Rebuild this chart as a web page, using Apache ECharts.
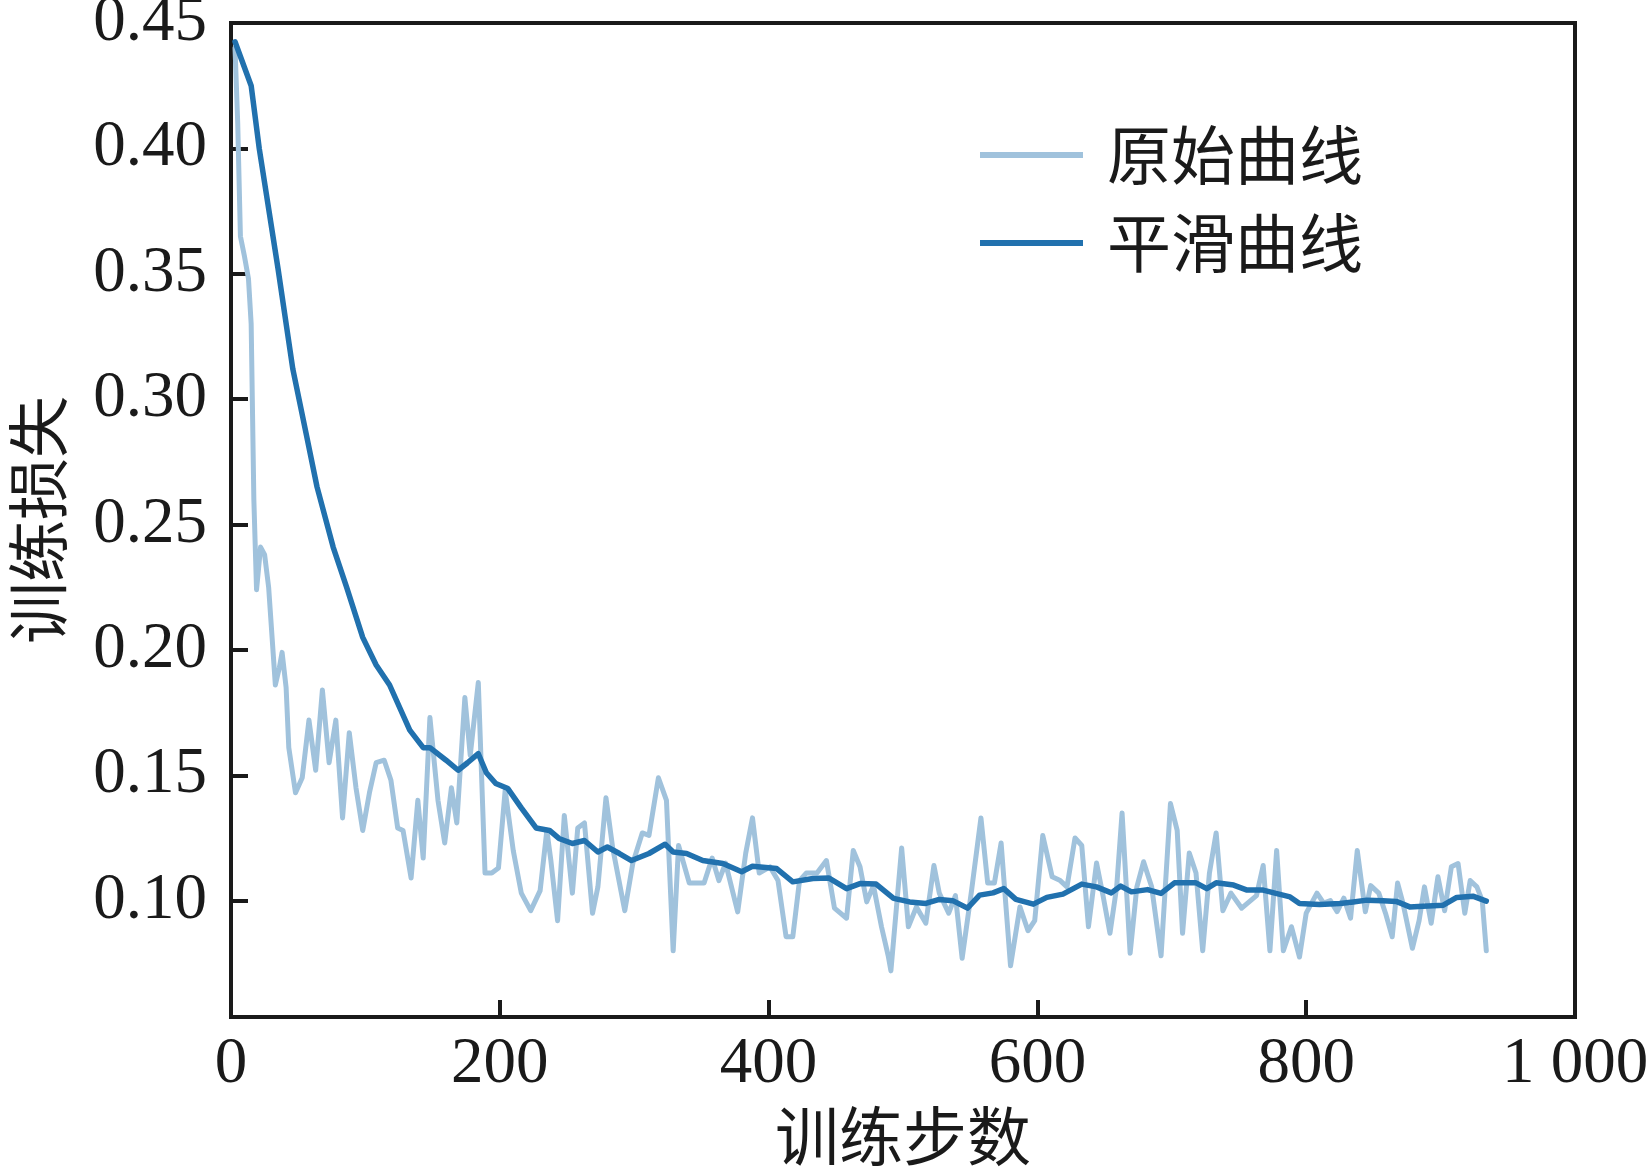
<!DOCTYPE html>
<html>
<head>
<meta charset="utf-8">
<script src="https://cdn.jsdelivr.net/npm/echarts@6/dist/echarts.min.js"></script>
<style>html,body{margin:0;padding:0;background:#fff;}#c{width:1649px;height:1170px;}</style>
</head>
<body>
<div id="c"></div>
<script>
var rawSteps = [3,5,7,10,13,15,17,19,22,25,28,33,36,38,41,43,48,53,58,63,68,73,78,83,88,93,98,103,108,114,119,124,128,134,139,143,148,154,159,164,168,174,178,184,189,194,199,204,210,216,223,230,235,238,243,248,254,258,263,269,273,279,284,293,299,306,311,318,324,329,333,341,352,358,363,368,377,383,388,393,401,407,413,418,423,428,436,443,449,458,463,468,473,478,484,489,491,499,504,510,517,523,527,534,539,544,551,558,563,568,573,580,587,593,598,604,611,617,622,628,633,638,644,649,654,659,663,669,674,679,685,692,699,704,708,713,718,723,728,733,738,744,752,763,768,773,778,783,789,795,800,808,813,818,823,828,833,838,844,848,854,859,864,868,872,879,884,888,893,898,903,908,913,918,922,927,931,934];
var rawLoss = [0.440,0.410,0.365,0.357,0.348,0.330,0.260,0.224,0.241,0.238,0.225,0.186,0.193,0.199,0.185,0.161,0.143,0.149,0.172,0.152,0.184,0.155,0.172,0.133,0.167,0.145,0.128,0.143,0.155,0.156,0.148,0.129,0.128,0.109,0.140,0.117,0.173,0.140,0.123,0.145,0.131,0.181,0.158,0.187,0.111,0.111,0.113,0.144,0.120,0.103,0.096,0.104,0.128,0.116,0.092,0.134,0.103,0.129,0.131,0.095,0.1055,0.141,0.121,0.096,0.115,0.127,0.126,0.149,0.140,0.080,0.122,0.107,0.107,0.117,0.108,0.115,0.0955,0.119,0.133,0.111,0.1135,0.108,0.0856,0.0856,0.108,0.111,0.111,0.116,0.097,0.093,0.120,0.1135,0.0995,0.106,0.0896,0.078,0.072,0.121,0.0896,0.0975,0.091,0.114,0.103,0.095,0.102,0.077,0.104,0.133,0.107,0.107,0.123,0.074,0.0975,0.088,0.092,0.126,0.1095,0.108,0.1055,0.125,0.122,0.0896,0.115,0.1015,0.087,0.1055,0.135,0.079,0.1055,0.1155,0.1055,0.078,0.1387,0.128,0.087,0.119,0.111,0.080,0.111,0.127,0.096,0.103,0.097,0.102,0.114,0.080,0.120,0.080,0.0896,0.0775,0.095,0.103,0.099,0.100,0.0956,0.101,0.093,0.120,0.0956,0.106,0.103,0.095,0.0856,0.107,0.099,0.081,0.092,0.1055,0.091,0.1095,0.096,0.1135,0.1148,0.095,0.108,0.1055,0.100,0.080];
var smoothSteps = [3,15,21,35,46,56,64,76,86,98,108,118,133,143,148,160,169,176,184,190,197,206,216,227,237,244,254,263,273,280,289,298,311,323,329,339,351,366,380,388,406,418,433,445,458,468,480,493,505,517,527,537,548,557,567,575,584,597,607,619,633,644,655,662,670,682,692,702,718,726,733,746,756,768,776,788,795,810,825,835,845,857,867,877,887,902,912,924,934];
var smoothLoss = [0.4425,0.425,0.400,0.352,0.312,0.286,0.265,0.241,0.225,0.205,0.194,0.186,0.168,0.161,0.161,0.156,0.152,0.155,0.1586,0.151,0.1467,0.1447,0.137,0.129,0.128,0.1248,0.1228,0.124,0.1194,0.1214,0.1188,0.116,0.1188,0.1225,0.1194,0.1188,0.116,0.1148,0.1115,0.1137,0.1128,0.1075,0.1088,0.109,0.1048,0.1068,0.1066,0.1009,0.0995,0.0989,0.1005,0.1000,0.0970,0.1022,0.1031,0.1048,0.1005,0.0986,0.1013,0.1026,0.1066,0.1055,0.1031,0.1058,0.1035,0.1044,0.1029,0.1071,0.1071,0.1048,0.1071,0.1062,0.1042,0.1042,0.1031,0.1015,0.0989,0.0985,0.0989,0.0995,0.1002,0.1000,0.0997,0.0975,0.0978,0.0982,0.1013,0.1018,0.0998];
var yTicks = [0.10,0.15,0.20,0.25,0.30,0.35,0.40,0.45];
var xTicks = [0,200,400,600,800,1000];
var xTickLabels = ['0','200','400','600','800','1 000'];
var seriesNames = ['原始曲线','平滑曲线'];

function pairs(xs, ys){ return xs.map(function(x,i){ return [x, ys[i]]; }); }

var serif = '"Liberation Serif","Times New Roman",serif';
var cjk = '"Noto Sans CJK SC",sans-serif';
var ink = '#1a1a1a';
var rawColor = '#a0c2dc';
var smoothColor = '#2171ae';

var chart = echarts.init(document.getElementById('c'), null, {renderer:'canvas'});
chart.setOption({
  animation: false,
  backgroundColor: '#fff',
  grid: { left: 231, right: 74, top: 23, bottom: 153, outerBoundsMode: 'none', containLabel: false,
    show: true, borderColor: ink, borderWidth: 4, backgroundColor: 'transparent' },
  legend: {
    orient: 'vertical', left: 975, top: 118, itemGap: 24,
    itemWidth: 103, itemHeight: 6, icon: 'rect',
    textStyle: { fontFamily: cjk, fontSize: 64, color: ink, padding: [0,0,0,19] },
    data: seriesNames
  },
  xAxis: {
    type: 'value', min: 0, max: 1000, interval: 200,
    name: '训练步数', nameLocation: 'middle', nameGap: 87,
    nameTextStyle: { fontFamily: cjk, fontSize: 64, color: ink },
    axisLine: { show: true, lineStyle: { color: ink, width: 4 } },
    axisTick: { show: true, inside: true, length: 17, lineStyle: { color: ink, width: 4 } },
    axisLabel: { margin: 15, fontFamily: serif, fontSize: 65, color: ink,
      formatter: function(v){ var i = xTicks.indexOf(v); return i >= 0 ? xTickLabels[i] : ''; } },
    splitLine: { show: false }
  },
  yAxis: {
    type: 'value', min: 0.0536, max: 0.45,
    name: '训练损失', nameLocation: 'middle', nameGap: 162, nameRotate: 90,
    nameTextStyle: { fontFamily: cjk, fontSize: 62, color: ink },
    axisLine: { show: true, lineStyle: { color: ink, width: 4 } },
    axisTick: { show: true, inside: true, length: 17, lineStyle: { color: ink, width: 4 }, customValues: yTicks },
    axisLabel: { margin: 24, fontFamily: serif, fontSize: 65, color: ink, customValues: yTicks,
      formatter: function(v){ return v.toFixed(2); } },
    splitLine: { show: false }
  },
  series: [
    { name: seriesNames[0], type: 'line', data: pairs(rawSteps, rawLoss), showSymbol: false, symbol: 'none',
      lineStyle: { color: rawColor, width: 5, join: 'round', cap: 'round' }, itemStyle: { color: rawColor }, z: 2 },
    { name: seriesNames[1], type: 'line', data: pairs(smoothSteps, smoothLoss), showSymbol: false, symbol: 'none',
      lineStyle: { color: smoothColor, width: 5.5, join: 'round', cap: 'round' }, itemStyle: { color: smoothColor }, z: 3 }
  ]
});
</script>
</body>
</html>
